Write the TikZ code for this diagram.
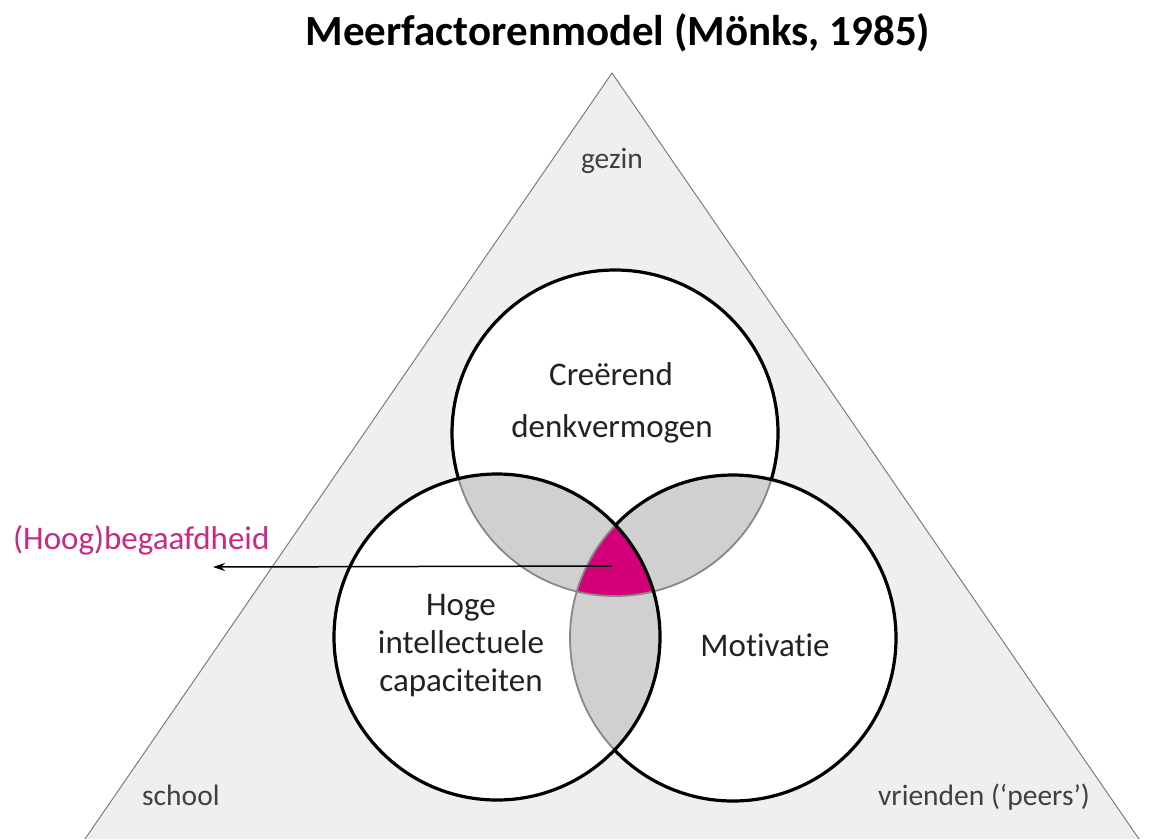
\documentclass[tikz,border=0pt]{standalone}
\usepackage{fontspec}
\setmainfont{Carlito}[Ligatures={NoCommon}]
\usetikzlibrary{arrows.meta}
\definecolor{trifill}{RGB}{239,239,239}
\definecolor{triedge}{RGB}{125,125,125}
\definecolor{lensfill}{RGB}{208,208,208}
\definecolor{lensedge}{RGB}{135,135,135}
\definecolor{corefill}{RGB}{212,0,122}
\definecolor{corelabel}{RGB}{204,40,130}
\definecolor{txt}{RGB}{34,34,34}
\definecolor{subtxt}{RGB}{64,64,64}
\begin{document}
\begin{tikzpicture}[x=1pt,y=-1pt,
  lbl/.style={text=txt, font=\fontsize{33}{39}\selectfont, inner sep=0pt, anchor=base},
  ctx/.style={text=subtxt, font=\fontsize{29.5}{34}\selectfont, inner sep=0pt, anchor=base},
  ring/.style={line width=3.2pt, draw=black},
  lensline/.style={line width=1.8pt, draw=lensedge},
  lens/.style={fill=lensfill},
  pointer/.style={line width=1.5pt, draw=black, -{Stealth[length=12pt,width=8pt]}}]
\useasboundingbox (0,0) rectangle (1155,839);
\fill[white] (0,0) rectangle (1155,839);
% triangle
\coordinate (apex) at (612,73);
\coordinate (bl) at (85,839);
\coordinate (br) at (1139,839);
\fill[trifill] (apex) -- (bl) -- (br) -- cycle;
\draw[triedge, line width=1pt] (bl) -- (apex) -- (br);
% circle centres
\coordinate (T) at (615,433);
\coordinate (L) at (497,637);
\coordinate (R) at (733,638);
\def\rr{163}
% white discs
\fill[white] (T) circle[radius=\rr];
\fill[white] (L) circle[radius=\rr];
\fill[white] (R) circle[radius=\rr];
% lenses
\begin{scope}\clip (T) circle[radius=\rr]; \fill[lens] (L) circle[radius=\rr]; \end{scope}
\begin{scope}\clip (T) circle[radius=\rr]; \fill[lens] (R) circle[radius=\rr]; \end{scope}
\begin{scope}\clip (L) circle[radius=\rr]; \fill[lens] (R) circle[radius=\rr]; \end{scope}
% core
\begin{scope}\clip (T) circle[radius=\rr]; \clip (L) circle[radius=\rr]; \fill[corefill] (R) circle[radius=\rr]; \end{scope}
% grey outlines
\draw[lensline] (T) circle[radius=\rr];
\draw[lensline] (R) circle[radius=\rr];
% black outlines
\draw[ring] (L) circle[radius=\rr];
\begin{scope}[even odd rule]
  \clip (-50,-50) rectangle (1250,950) (L) circle[radius=\rr];
  \draw[ring] (R) circle[radius=\rr];
\end{scope}
\begin{scope}[even odd rule]
  \clip (-50,-50) rectangle (1250,950) (L) circle[radius=\rr];
  \clip (-50,-50) rectangle (1250,950) (R) circle[radius=\rr];
  \draw[ring] (T) circle[radius=\rr];
\end{scope}
% title
\node[anchor=base, inner sep=0pt, text=black, font=\fontsize{43}{48}\selectfont\bfseries] (title) at (618,45) {Meerfactorenmodel (Mönks, 1985)};
% context labels
\node[ctx] (gezin) at (612,168) {gezin};
\node[ctx, anchor=base west] (school) at (142,805) {school};
\node[ctx, anchor=base east] (vrienden) at (1090,805) {vrienden (‘peers’)};
% circle labels
\node[lbl] (cre1) at (611,385) {Creërend};
\node[lbl] (cre2) at (612,437) {denkvermogen};
\node[lbl] (hoge1) at (461,615) {Hoge};
\node[lbl] (hoge2) at (461,653) {intellectuele};
\node[lbl] (hoge3) at (461,691) {capaciteiten};
\node[lbl] (moti) at (765,656) {Motivatie};
% giftedness label and pointer
\node[lbl, anchor=base west, text=corelabel] (gift) at (13,549) {(Hoog)begaafdheid};
\coordinate (coreP) at (612,566);
\coordinate (arrowEnd) at (213,567);
\draw[pointer] (coreP) -- (arrowEnd);
\end{tikzpicture}
\end{document}
